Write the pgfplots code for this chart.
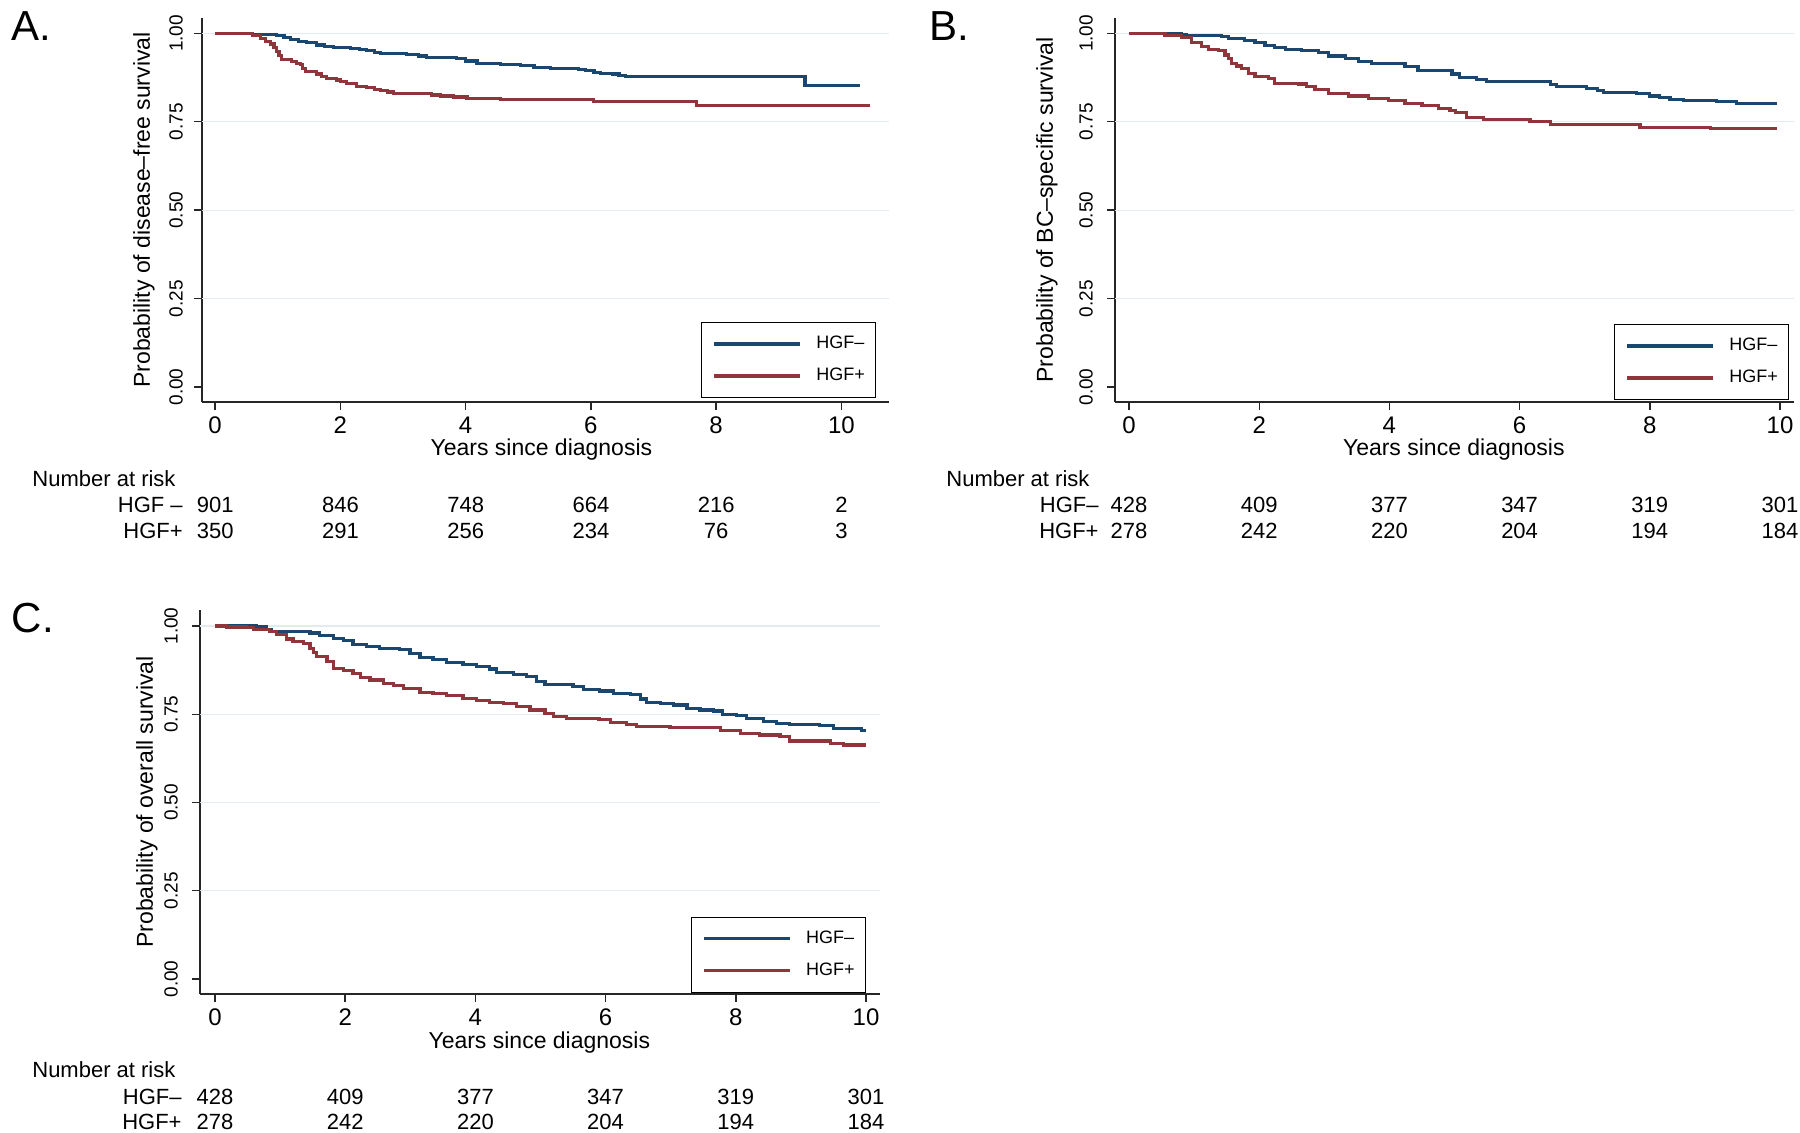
\documentclass[border=0pt]{standalone}
\usepackage{fontspec}
\setmainfont{Liberation Sans}
\usepackage{pgfplots}
\pgfplotsset{compat=1.18}
\definecolor{kmnavy}{RGB}{26,71,111}
\definecolor{kmmaroon}{RGB}{144,53,59}
\definecolor{kmgrid}{RGB}{228,235,240}
\tikzset{risk/.style={font=\fontsize{11}{13}\selectfont, inner sep=0pt}}
\pgfplotsset{
 legend image code/.code={\draw[#1, line width=1.6pt] (0pt,0pt) -- (43pt,0pt);},
 km/.style={
  scale only axis, height=192pt, clip=false,
  ymin=-0.0424, ymax=1.0436,
  axis x line=bottom, axis y line=left,
  axis line style={-, line width=0.8pt, black!85},
  tick align=outside, major tick length=4pt,
  tick style={black!85, line width=0.7pt},
  xtick={0,2,4,6,8,10}, xticklabels={0,2,4,6,8,10},
  ytick={0,0.25,0.5,0.75,1}, yticklabels={0.00,0.25,0.50,0.75,1.00},
  minor tick num=0,
  extra y ticks={0.25,0.5,0.75,1},
  extra y tick labels={},
  extra y tick style={grid=major, major tick length=0pt},
  major grid style={kmgrid, line width=0.6pt},
  xticklabel style={font=\fontsize{12}{14}\selectfont, inner sep=0pt, anchor=north, yshift=-3.2pt},
  yticklabel style={font=\fontsize{9.5}{11}\selectfont, inner sep=0pt, anchor=center, xshift=#1, rotate=90},
  label style={font=\fontsize{11.5}{13}\selectfont},
  xlabel={Years since diagnosis},
  legend cell align=left,
  legend style={anchor=south east, draw=black, line width=0.5pt, fill=white, inner xsep=5.25pt, inner ysep=2.75pt, font=\fontsize{9}{10}\selectfont, row sep=0pt, column sep=7.5pt, nodes={inner sep=0pt, anchor=west, minimum height=16pt}},
 },
 neg/.style={const plot, kmnavy, line width=1.6pt},
 pos/.style={const plot, kmmaroon, line width=1.6pt},
}
\begin{document}
\begin{tikzpicture}
\path[use as bounding box] (0pt,0pt) rectangle (900pt,566.5pt);
% ---------------- Panel A ----------------
\begin{axis}[km=-9pt, at={(101pt,365.5pt)}, anchor=south west, width=343.5pt,
  xmin=-0.21, xmax=10.76,
  ylabel={Probability of disease--free survival},
  ylabel style={at={(axis description cs:-0.0844,0.5)}, anchor=center},
  xlabel style={at={(axis description cs:0.494,-0.125)}, anchor=center},
  legend style={at={(rel axis cs:0.981,0.0104)}}]
\addplot[neg] coordinates {(0,1) (0.6,0.998) (0.8,0.996) (0.98,0.993) (1.1,0.988) (1.2,0.983) (1.33,0.978) (1.46,0.974) (1.62,0.967) (1.75,0.964) (1.89,0.961) (2.16,0.958) (2.3,0.955) (2.42,0.951) (2.55,0.947) (2.64,0.944) (3.06,0.941) (3.25,0.936) (3.38,0.932) (3.86,0.928) (4.0,0.922) (4.18,0.915) (4.55,0.913) (4.87,0.909) (5.09,0.903) (5.35,0.901) (5.8,0.898) (5.92,0.895) (6.05,0.890) (6.15,0.887) (6.34,0.885) (6.45,0.881) (6.55,0.878) (9.42,0.853) (10.3,0.853)};
\addlegendentry{HGF--}
\addplot[pos] coordinates {(0,1) (0.6,0.995) (0.72,0.986) (0.8,0.978) (0.88,0.970) (0.94,0.960) (0.985,0.948) (1.02,0.938) (1.065,0.927) (1.225,0.920) (1.30,0.915) (1.358,0.911) (1.40,0.900) (1.438,0.892) (1.624,0.885) (1.70,0.879) (1.784,0.873) (1.944,0.868) (2.0,0.863) (2.103,0.859) (2.263,0.849) (2.423,0.847) (2.55,0.842) (2.636,0.838) (2.75,0.834) (2.849,0.830) (3.275,0.829) (3.45,0.826) (3.594,0.823) (3.8,0.820) (4.02,0.816) (4.553,0.812) (6.04,0.808) (7.68,0.797) (10.46,0.797)};
\addlegendentry{HGF+}
\node[risk, anchor=west] at (axis cs:-2.923,-0.260) {Number at risk};
\node[risk, anchor=east] at (axis cs:-0.511,-0.3337) {HGF –};
\node[risk, anchor=east] at (axis cs:-0.511,-0.407) {HGF+};
\node[risk] at (axis cs:0,-0.3337) {901};
\node[risk] at (axis cs:2,-0.3337) {846};
\node[risk] at (axis cs:4,-0.3337) {748};
\node[risk] at (axis cs:6,-0.3337) {664};
\node[risk] at (axis cs:8,-0.3337) {216};
\node[risk] at (axis cs:10,-0.3337) {2};
\node[risk] at (axis cs:0,-0.407) {350};
\node[risk] at (axis cs:2,-0.407) {291};
\node[risk] at (axis cs:4,-0.407) {256};
\node[risk] at (axis cs:6,-0.407) {234};
\node[risk] at (axis cs:8,-0.407) {76};
\node[risk] at (axis cs:10,-0.407) {3};
\end{axis}
% ---------------- Panel B ----------------
\begin{axis}[km=-10.5pt, at={(557.5pt,365.5pt)}, anchor=south west, width=339.5pt,
  xmin=-0.215, xmax=10.215,
  ylabel={Probability of BC--specific survival},
  ylabel style={at={(axis description cs:-0.1001,0.5)}, anchor=center},
  xlabel style={at={(axis description cs:0.499,-0.125)}, anchor=center},
  legend style={at={(rel axis cs:0.9926,0.005)}}]
\addplot[neg] coordinates {(0,1) (0.8,0.997) (0.886,0.993) (1.42,0.991) (1.526,0.985) (1.78,0.981) (1.935,0.974) (2.09,0.966) (2.24,0.961) (2.40,0.955) (2.65,0.951) (2.91,0.946) (3.06,0.936) (3.32,0.929) (3.52,0.921) (3.73,0.914) (4.24,0.906) (4.44,0.896) (4.75,0.895) (4.96,0.885) (5.08,0.876) (5.34,0.870) (5.49,0.864) (6.47,0.856) (6.57,0.849) (7.03,0.845) (7.2,0.838) (7.29,0.833) (7.80,0.831) (8.0,0.823) (8.15,0.818) (8.31,0.814) (8.52,0.810) (9.03,0.808) (9.33,0.802) (9.95,0.802)};
\addlegendentry{HGF--}
\addplot[pos] coordinates {(0,1) (0.553,0.993) (0.81,0.989) (0.963,0.974) (1.116,0.962) (1.22,0.955) (1.37,0.951) (1.475,0.939) (1.53,0.928) (1.577,0.915) (1.65,0.908) (1.73,0.901) (1.83,0.887) (1.935,0.878) (2.14,0.872) (2.24,0.859) (2.60,0.857) (2.73,0.850) (2.857,0.842) (3.06,0.831) (3.37,0.823) (3.68,0.817) (3.98,0.810) (4.24,0.802) (4.50,0.795) (4.75,0.787) (4.93,0.781) (5.01,0.776) (5.19,0.763) (5.45,0.757) (6.16,0.750) (6.47,0.742) (7.85,0.734) (8.93,0.730) (9.95,0.730)};
\addlegendentry{HGF+}
\node[risk, anchor=west] at (axis cs:-2.811,-0.260) {Number at risk};
\node[risk, anchor=east] at (axis cs:-0.461,-0.3337) {HGF--};
\node[risk, anchor=east] at (axis cs:-0.461,-0.407) {HGF+};
\node[risk] at (axis cs:0,-0.3337) {428};
\node[risk] at (axis cs:2,-0.3337) {409};
\node[risk] at (axis cs:4,-0.3337) {377};
\node[risk] at (axis cs:6,-0.3337) {347};
\node[risk] at (axis cs:8,-0.3337) {319};
\node[risk] at (axis cs:10,-0.3337) {301};
\node[risk] at (axis cs:0,-0.407) {278};
\node[risk] at (axis cs:2,-0.407) {242};
\node[risk] at (axis cs:4,-0.407) {220};
\node[risk] at (axis cs:6,-0.407) {204};
\node[risk] at (axis cs:8,-0.407) {194};
\node[risk] at (axis cs:10,-0.407) {184};
\end{axis}
% ---------------- Panel C ----------------
\begin{axis}[km=-10.5pt, at={(100pt,69.5pt)}, anchor=south west, width=340pt,
  xmin=-0.23, xmax=10.215, ymin=-0.0425, ymax=1.0453,
  ylabel={Probability of overall survival},
  ylabel style={at={(axis description cs:-0.078,0.5)}, anchor=center},
  xlabel style={at={(axis description cs:0.499,-0.1276)}, anchor=center},
  legend style={at={(rel axis cs:0.979,0.003)}}]
\addplot[neg] coordinates {(0,1) (0.64,0.997) (0.79,0.989) (0.87,0.984) (1.46,0.980) (1.61,0.973) (1.82,0.965) (1.97,0.959) (2.12,0.948) (2.33,0.941) (2.53,0.937) (2.84,0.933) (2.995,0.923) (3.15,0.910) (3.35,0.906) (3.56,0.897) (3.81,0.890) (4.02,0.885) (4.22,0.878) (4.33,0.869) (4.58,0.863) (4.79,0.856) (4.94,0.842) (5.07,0.835) (5.50,0.828) (5.66,0.819) (5.91,0.816) (6.12,0.808) (6.38,0.806) (6.53,0.793) (6.63,0.784) (6.84,0.781) (7.04,0.776) (7.25,0.767) (7.45,0.762) (7.66,0.759) (7.79,0.750) (8.01,0.746) (8.17,0.737) (8.42,0.729) (8.63,0.723) (8.83,0.721) (9.29,0.718) (9.50,0.710) (9.93,0.705) (10.0,0.705)};
\addlegendentry{HGF--}
\addplot[pos] coordinates {(0,1) (0.18,0.997) (0.49,0.995) (0.59,0.990) (0.84,0.984) (0.95,0.975) (1.10,0.963) (1.20,0.956) (1.36,0.951) (1.46,0.937) (1.51,0.925) (1.56,0.913) (1.72,0.899) (1.82,0.880) (1.97,0.873) (2.12,0.866) (2.23,0.854) (2.38,0.847) (2.59,0.838) (2.74,0.831) (2.89,0.822) (3.15,0.812) (3.35,0.809) (3.56,0.803) (3.81,0.795) (4.02,0.790) (4.22,0.784) (4.43,0.781) (4.63,0.772) (4.84,0.762) (5.07,0.753) (5.20,0.743) (5.40,0.737) (5.90,0.734) (6.07,0.727) (6.32,0.722) (6.48,0.715) (6.99,0.712) (7.76,0.703) (8.07,0.696) (8.37,0.691) (8.68,0.687) (8.83,0.674) (9.45,0.668) (9.65,0.663) (9.93,0.663) (10.0,0.663)};
\addlegendentry{HGF+}
\node[risk, anchor=west] at (axis cs:-2.811,-0.258) {Number at risk};
\node[risk, anchor=east] at (axis cs:-0.507,-0.334) {HGF--};
\node[risk, anchor=east] at (axis cs:-0.507,-0.405) {HGF+};
\node[risk] at (axis cs:0,-0.334) {428};
\node[risk] at (axis cs:2,-0.334) {409};
\node[risk] at (axis cs:4,-0.334) {377};
\node[risk] at (axis cs:6,-0.334) {347};
\node[risk] at (axis cs:8,-0.334) {319};
\node[risk] at (axis cs:10,-0.334) {301};
\node[risk] at (axis cs:0,-0.405) {278};
\node[risk] at (axis cs:2,-0.405) {242};
\node[risk] at (axis cs:4,-0.405) {220};
\node[risk] at (axis cs:6,-0.405) {204};
\node[risk] at (axis cs:8,-0.405) {194};
\node[risk] at (axis cs:10,-0.405) {184};
\end{axis}
% ---------------- Panel letters ----------------
\node[font=\fontsize{21}{24}\selectfont, anchor=base west, inner sep=0pt] at (5.5pt,546pt) {A.};
\node[font=\fontsize{21}{24}\selectfont, anchor=base west, inner sep=0pt] at (464.5pt,546pt) {B.};
\node[font=\fontsize{21}{24}\selectfont, anchor=base west, inner sep=0pt] at (5.75pt,250pt) {C.};
\end{tikzpicture}
\end{document}
